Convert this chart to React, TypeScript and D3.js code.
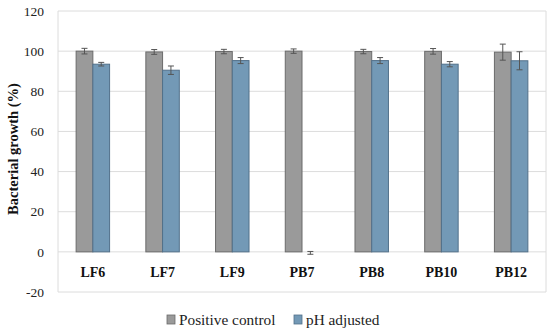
import React from "react";
import * as d3 from "d3";

const categories = ["LF6", "LF7", "LF9", "PB7", "PB8", "PB10", "PB12"];
const seriesNames = ["Positive control", "pH adjusted"];
const positiveControl = [100, 99.6, 99.8, 100, 99.8, 99.9, 99.5];
const positiveErr = [1.4, 1.2, 1.1, 1.1, 1.1, 1.4, 4];
const phAdjusted = [93.5, 90.5, 95.3, -0.5, 95.3, 93.5, 95.2];
const phErr = [0.9, 2.1, 1.5, 0.7, 1.5, 1.3, 4.5];
const yTicks = [-20, 0, 20, 40, 60, 80, 100, 120];

const W = 550;
const H = 333;
const M = { left: 58, right: 4, top: 11, bottom: 41 };
const FONT = "'Liberation Serif', 'DejaVu Serif', serif";
const COLORS = ["#9a9a9a", "#7399b6"];
const STROKES = ["#6b6b6b", "#52708a"];

export default function App() {
  const x = d3
    .scaleBand<string>()
    .domain(categories)
    .range([M.left, W - M.right])
    .paddingInner(0.52)
    .paddingOuter(0.26);
  const x1 = d3.scaleBand<number>().domain([0, 1]).range([0, x.bandwidth()]);
  const y = d3.scaleLinear().domain([-20, 120]).range([H - M.bottom, M.top]);
  const series = [
    { vals: positiveControl, errs: positiveErr },
    { vals: phAdjusted, errs: phErr },
  ];
  return (
    <svg width={W} height={H} style={{ position: "absolute", left: 0, top: 0, background: "#fff" }}>
      {yTicks.map((t) => (
        <g key={t}>
          <line x1={M.left} x2={W - M.right} y1={y(t)} y2={y(t)} stroke="#dcdcdc" strokeWidth={1} />
          <text x={44} y={y(t)} dy="0.35em" textAnchor="end" fontFamily={FONT} fontSize={13.5} fill="#222">
            {t}
          </text>
        </g>
      ))}
      <line x1={M.left} x2={M.left} y1={y(120)} y2={y(-20)} stroke="#dcdcdc" />
      <line x1={W - M.right} x2={W - M.right} y1={y(120)} y2={y(-20)} stroke="#dcdcdc" />
      {series.map((s, si) =>
        categories.map((c, i) => {
          const v = s.vals[i];
          const bx = (x(c) as number) + (x1(si) as number);
          const bw = x1.bandwidth();
          const y0 = y(Math.max(0, v));
          const h = Math.abs(y(v) - y(0));
          const cx = bx + bw / 2;
          const e = s.errs[i];
          const tiny = h < 2;
          return (
            <g key={c + si}>
              <rect
                x={bx}
                y={y0}
                width={bw}
                height={h}
                fill={tiny ? "none" : COLORS[si]}
                stroke={tiny ? "none" : STROKES[si]}
                strokeWidth={1}
              />
              <g stroke="#555" strokeWidth={1}>
                <line x1={cx} x2={cx} y1={y(v + e)} y2={y(v - e)} />
                <line x1={cx - 3} x2={cx + 3} y1={y(v + e)} y2={y(v + e)} />
                <line x1={cx - 3} x2={cx + 3} y1={y(v - e)} y2={y(v - e)} />
              </g>
            </g>
          );
        })
      )}
      {categories.map((c) => (
        <text
          key={c}
          x={(x(c) as number) + x.bandwidth() / 2}
          y={y(-10)}
          dy="0.35em"
          textAnchor="middle"
          fontFamily={FONT}
          fontWeight="bold"
          fontSize={14}
          fill="#111"
        >
          {c}
        </text>
      ))}
      <text
        transform={`translate(13, 149) rotate(-90)`}
        textAnchor="middle"
        dy="0.35em"
        fontFamily={FONT}
        fontWeight="bold"
        fontSize={14.5}
        fill="#111"
      >
        Bacterial growth (%)
      </text>
      {[0, 1].map((si) => {
        const lx = si === 0 ? 167 : 294;
        return (
          <g key={si}>
            <rect x={lx} y={315} width={8} height={9} fill={COLORS[si]} stroke={STROKES[si]} strokeWidth={0.8} />
            <text x={lx + 12} y={319.5} dy="0.35em" fontFamily={FONT} fontSize={15.3} fill="#222">
              {seriesNames[si]}
            </text>
          </g>
        );
      })}
    </svg>
  );
}
